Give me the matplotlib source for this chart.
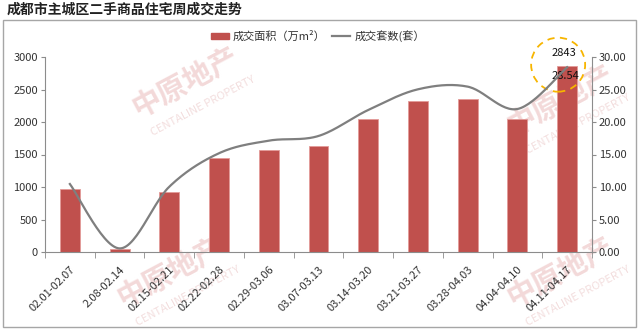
import numpy as np
import matplotlib
matplotlib.use("Agg")
import matplotlib.pyplot as plt
import matplotlib.transforms as transforms
from matplotlib.patches import Rectangle, Ellipse, Patch
from matplotlib.lines import Line2D

plt.rcParams['font.family'] = ['Noto Sans CJK SC', 'DejaVu Sans']

weeks = ["02.01-02.07", "2.08-02.14", "02.15-02.21", "02.22-02.28", "02.29-03.06",
         "03.07-03.13", "03.14-03.20", "03.21-03.27", "03.28-04.03", "04.04-04.10",
         "04.11-04.17"]
area = [9.7, 0.4, 9.3, 14.4, 15.7, 16.3, 20.5, 23.3, 23.5, 20.4, 28.54]   # 万m²
units = [1046, 55, 1005, 1520, 1713, 1785, 2185, 2503, 2544, 2200, 2843]  # 套

bar_color = "#c0504d"
line_color = "#7f7f7f"
text_color = "#333333"
axis_color = "#8c8c8c"


def smooth(xs, ys, n=30):
    # bezier smoothing through every point (control points at 1/6 of neighbour chord)
    xs = np.asarray(xs, float)
    ys = np.asarray(ys, float)
    px = np.concatenate([[xs[0]], xs, [xs[-1]]])
    py = np.concatenate([[ys[0]], ys, [ys[-1]]])
    outx, outy = [], []
    t = np.linspace(0, 1, n)
    for i in range(1, len(px) - 2):
        x0, y0 = px[i], py[i]
        x3, y3 = px[i + 1], py[i + 1]
        x1 = x0 + (px[i + 1] - px[i - 1]) / 6
        y1 = y0 + (py[i + 1] - py[i - 1]) / 6
        x2 = x3 - (px[i + 2] - px[i]) / 6
        y2 = y3 - (py[i + 2] - py[i]) / 6
        bx = (1 - t) ** 3 * x0 + 3 * (1 - t) ** 2 * t * x1 + 3 * (1 - t) * t ** 2 * x2 + t ** 3 * x3
        by = (1 - t) ** 3 * y0 + 3 * (1 - t) ** 2 * t * y1 + 3 * (1 - t) * t ** 2 * y2 + t ** 3 * y3
        outx.extend(bx)
        outy.extend(by)
    return np.array(outx), np.array(outy)


fig = plt.figure(figsize=(6.4, 3.31), dpi=100)

# outer frame
fig.patches.append(Rectangle((3 / 640, 1 - 327 / 331), 633 / 640, 307 / 331,
                             transform=fig.transFigure, fill=False,
                             edgecolor="#a6a6a6", lw=1))

# watermarks
for cx, cy in [(185, 82), (170, 272), (560, 100), (560, 272)]:
    fig.text(cx / 640, 1 - cy / 331, "中原地产", fontsize=21, fontweight="bold",
             color="#f3d9d9", rotation=28, ha="center", va="center", zorder=-5)
    fig.text((cx + 18) / 640, 1 - (cy + 24) / 331, "CENTALINE PROPERTY", fontsize=8,
             color="#f3dede", rotation=28, ha="center", va="center", zorder=-5)

fig.text(7 / 640, 1 - 10 / 331, "成都市主城区二手商品住宅周成交走势", fontsize=10,
         fontweight="bold", color="#222222", ha="left", va="center")

ax = fig.add_axes([45 / 640, 1 - 252 / 331, 547 / 640, 195 / 331])
ax2 = ax.twinx()

x = np.arange(len(weeks))
ax2.bar(x, area, width=0.4, color=bar_color, edgecolor="#e39a98", linewidth=0.6)
sx, sy = smooth(x, units)
ax.plot(sx, sy, color=line_color, lw=1.6)

ax.set_zorder(ax2.get_zorder() + 1)
ax.patch.set_visible(False)
ax2.patch.set_visible(False)

ax.set_xlim(-0.5, len(weeks) - 0.5)
ax.set_ylim(0, 3000)
ax2.set_ylim(0, 30)
ax.set_yticks(np.arange(0, 3001, 500))
ax2.set_yticks(np.arange(0, 31, 5))
ax2.set_yticklabels([f"{v:.2f}" for v in np.arange(0, 31, 5)])

ax.set_xticks(x)
ax.set_xticklabels(weeks, rotation=45, ha="right", rotation_mode="anchor")
ax.set_xticks(np.arange(-0.5, len(weeks), 1), minor=True)
ax.tick_params(axis="x", which="major", length=0, pad=9, labelsize=8, labelcolor=text_color)
ax.tick_params(axis="x", which="minor", length=4, color=axis_color)
ax.tick_params(axis="y", length=3, color=axis_color, labelsize=8, labelcolor=text_color, pad=2)
ax2.tick_params(axis="y", length=3, color=axis_color, labelsize=8, labelcolor=text_color, pad=2)

for a in (ax, ax2):
    a.spines["top"].set_visible(False)
    for s in ("left", "right", "bottom"):
        a.spines[s].set_color(axis_color)
ax.spines["right"].set_visible(False)
ax2.spines["left"].set_visible(False)
ax2.spines["bottom"].set_visible(False)

# labels on the latest week
last = len(weeks) - 1
ax.annotate(f"{units[last]}", (last, units[last]), xytext=(-2, 10.5), textcoords="offset points",
            ha="center", va="center", fontsize=8, color="#111111")
ax2.annotate(f"{area[last]:.2f}", (last, area[last]), xytext=(-1, -7), textcoords="offset points",
             ha="center", va="center", fontsize=8, color="#111111")
circ_trans = fig.dpi_scale_trans + transforms.ScaledTranslation(last, units[last], ax.transData)
ax.add_patch(Ellipse((-0.09, 0.025), 0.54, 0.54, transform=circ_trans, fill=False,
                     edgecolor="#f7b500", lw=1.3, linestyle=(0, (4, 3)), clip_on=False))

handles = [Patch(color=bar_color), Line2D([], [], color=line_color, lw=1.6)]
fig.legend(handles, ["成交面积（万m²）", "成交套数(套）"], loc="center",
           bbox_to_anchor=(318 / 640, 1 - 36 / 331), ncol=2, frameon=False, fontsize=8,
           handlelength=1.6, handleheight=0.5, columnspacing=0.6, handletextpad=0.4,
           labelcolor=text_color)

fig.savefig("out.png", dpi=100)
